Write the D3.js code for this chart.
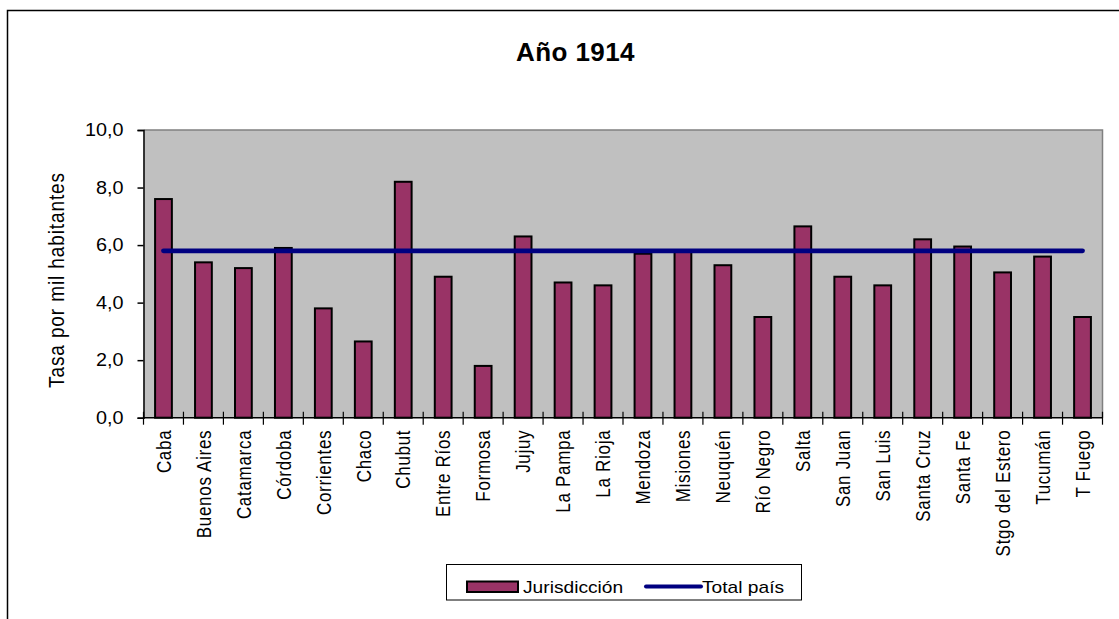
<!DOCTYPE html>
<html lang="es">
<head>
<meta charset="utf-8">
<title>Año 1914</title>
<script src="https://cdn.jsdelivr.net/npm/d3@7"></script>
<style>
  html, body { margin: 0; padding: 0; background: #ffffff; }
  svg { display: block; font-family: "Liberation Sans", Arial, Helvetica, sans-serif; }
</style>
</head>
<body>
<svg id="chart" width="1119" height="619"></svg>
<script>
// Jurisdicciones (eje de categorías)
const jurisdicciones = [
  "Caba", "Buenos Aires", "Catamarca", "Córdoba", "Corrientes", "Chaco",
  "Chubut", "Entre Ríos", "Formosa", "Jujuy", "La Pampa", "La Rioja",
  "Mendoza", "Misiones", "Neuquén", "Río Negro", "Salta", "San Juan",
  "San Luis", "Santa Cruz", "Santa Fe", "Stgo del Estero", "Tucumán", "T Fuego"
];

// Tasa por mil habitantes de cada jurisdicción
const tasaJurisdiccion = [
  7.6, 5.4, 5.2, 5.9, 3.8, 2.65,
  8.2, 4.9, 1.8, 6.3, 4.7, 4.6,
  5.7, 5.8, 5.3, 3.5, 6.65, 4.9,
  4.6, 6.2, 5.95, 5.05, 5.6, 3.5
];

// Tasa del total del país, repetida en cada jurisdicción
const tasaTotalPais = [
  5.8, 5.8, 5.8, 5.8, 5.8, 5.8,
  5.8, 5.8, 5.8, 5.8, 5.8, 5.8,
  5.8, 5.8, 5.8, 5.8, 5.8, 5.8,
  5.8, 5.8, 5.8, 5.8, 5.8, 5.8
];

const yTicks = [0, 2, 4, 6, 8, 10];
const serieNombres = ["Jurisdicción", "Total país"];
const titulo = "Año 1914";
const tituloEjeY = "Tasa por mil habitantes";

const colorBarra = "#993366";
const colorLinea = "#000080";

const svg = d3.select("#chart");

// Marco exterior del gráfico
svg.append("rect")
  .attr("x", 7.5).attr("y", 10.5)
  .attr("width", 1140).attr("height", 640)
  .attr("fill", "#ffffff")
  .attr("stroke", "#000000").attr("stroke-width", 1.5);

const plot = { left: 143.5, right: 1102.5, top: 130, bottom: 417.7 };

const x = d3.scaleBand()
  .domain(jurisdicciones)
  .range([plot.left, plot.right])
  .paddingInner(0.58)
  .paddingOuter(0.29);

const y = d3.scaleLinear()
  .domain([0, 10])
  .range([plot.bottom, plot.top]);

// Área de trazado
svg.append("rect")
  .attr("x", plot.left).attr("y", plot.top)
  .attr("width", plot.right - plot.left).attr("height", plot.bottom - plot.top)
  .attr("fill", "#c0c0c0");

svg.append("path")
  .attr("d", `M${plot.left},${plot.top}H${plot.right}V${plot.bottom}`)
  .attr("fill", "none")
  .attr("stroke", "#808080").attr("stroke-width", 1.5);

// Título
svg.append("text")
  .attr("x", 575.5).attr("y", 61)
  .attr("text-anchor", "middle")
  .attr("font-size", 26).attr("font-weight", "bold")
  .attr("letter-spacing", 0.4)
  .attr("fill", "#000")
  .text(titulo);

// Barras
svg.append("g")
  .selectAll("rect")
  .data(jurisdicciones)
  .join("rect")
  .attr("x", d => x(d))
  .attr("y", (d, i) => y(tasaJurisdiccion[i]))
  .attr("width", x.bandwidth())
  .attr("height", (d, i) => y(0) - y(tasaJurisdiccion[i]))
  .attr("fill", colorBarra)
  .attr("stroke", "#000000")
  .attr("stroke-width", 2);

// Línea del total país
const linea = d3.line()
  .x((d, i) => x(jurisdicciones[i]) + x.bandwidth() / 2)
  .y(d => y(d));

svg.append("path")
  .datum(tasaTotalPais)
  .attr("d", linea)
  .attr("fill", "none")
  .attr("stroke", colorLinea)
  .attr("stroke-width", 4.8)
  .attr("stroke-linecap", "round");

// Eje Y
const ejeY = svg.append("g")
  .attr("transform", `translate(${plot.left},0)`)
  .call(d3.axisLeft(y)
    .tickValues(yTicks)
    .tickSize(6)
    .tickPadding(9)
    .tickFormat(d => d.toFixed(1).replace(".", ",")));
ejeY.select(".domain").attr("stroke", "#000").attr("stroke-width", 1.5);
ejeY.selectAll(".tick line").attr("stroke", "#000").attr("stroke-width", 1.5);
// Etiquetas del eje Y ligeramente ensanchadas, alineadas a la derecha
ejeY.selectAll(".tick text")
  .attr("font-size", 18)
  .attr("font-family", "Liberation Sans, Arial, sans-serif")
  .attr("fill", "#000")
  .attr("x", null)
  .attr("transform", "translate(-20,0) scale(1.1,1)");

// Eje X: línea base, marcas entre categorías y etiquetas verticales
svg.append("line")
  .attr("x1", plot.left).attr("x2", plot.right)
  .attr("y1", y(0)).attr("y2", y(0))
  .attr("stroke", "#000").attr("stroke-width", 1.5);

const paso = x.step();
const limites = jurisdicciones.map(d => x(d) - (paso - x.bandwidth()) / 2);
limites.push(limites[limites.length - 1] + paso);

svg.append("g")
  .selectAll("line")
  .data(limites)
  .join("line")
  .attr("x1", d => d).attr("x2", d => d)
  .attr("y1", y(0) - 6).attr("y2", y(0) + 7)
  .attr("stroke", "#000").attr("stroke-width", 1.2);

svg.append("g")
  .selectAll("text")
  .data(jurisdicciones)
  .join("text")
  .attr("transform", d => `translate(${x(d) + x.bandwidth() / 2},${y(0) + 12}) rotate(-90) scale(1,1.22)`)
  .attr("text-anchor", "end")
  .attr("dy", "0.35em")
  .attr("font-size", 17)
  .attr("letter-spacing", 0.7)
  .attr("fill", "#000")
  .text(d => d);

// Título del eje Y
svg.append("text")
  .attr("transform", "translate(57,280) rotate(-90) scale(1,1.12)")
  .attr("text-anchor", "middle")
  .attr("dy", "0.35em")
  .attr("font-size", 19)
  .attr("letter-spacing", 0.9)
  .attr("fill", "#000")
  .text(tituloEjeY);

// Leyenda
const leyenda = svg.append("g");
leyenda.append("rect")
  .attr("x", 446.5).attr("y", 564.5)
  .attr("width", 355).attr("height", 35.5)
  .attr("fill", "#fff")
  .attr("stroke", "#000").attr("stroke-width", 1);

leyenda.append("rect")
  .attr("x", 467).attr("y", 581.5)
  .attr("width", 51).attr("height", 10.5)
  .attr("fill", colorBarra)
  .attr("stroke", "#000").attr("stroke-width", 2);

leyenda.append("text")
  .attr("transform", "translate(523,592.5) scale(1.2,1)")
  .attr("font-size", 16)
  .attr("fill", "#000")
  .text(serieNombres[0]);

leyenda.append("line")
  .attr("x1", 646).attr("x2", 701)
  .attr("y1", 586.5).attr("y2", 586.5)
  .attr("stroke", colorLinea).attr("stroke-width", 4)
  .attr("stroke-linecap", "round");

leyenda.append("text")
  .attr("transform", "translate(702,592.5) scale(1.2,1)")
  .attr("font-size", 16)
  .attr("fill", "#000")
  .text(serieNombres[1]);
</script>
</body>
</html>
